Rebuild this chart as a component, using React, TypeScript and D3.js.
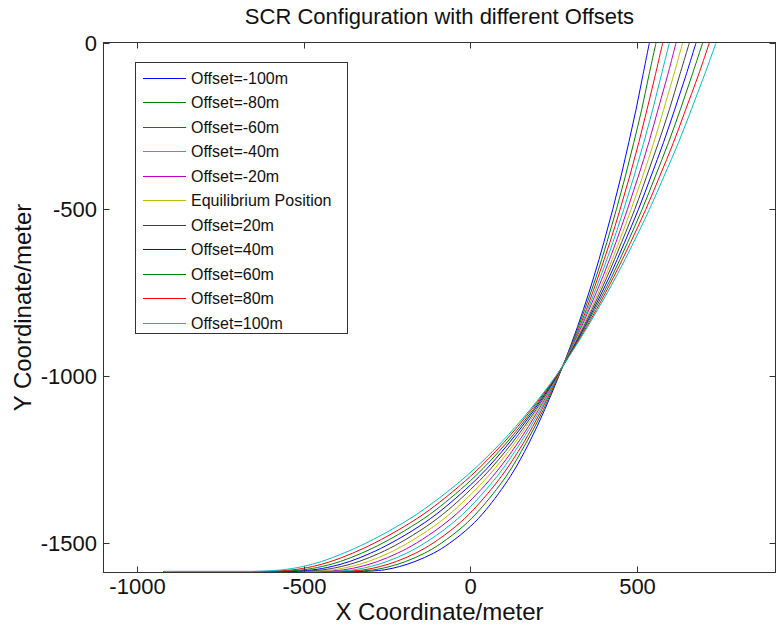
import React from "react";
import * as d3 from "d3";

// ---- Data ----
const chartTitle = "SCR Configuration with different Offsets";
const xLabel = "X Coordinate/meter";
const yLabel = "Y Coordinate/meter";

const xTicks = [-1000, -500, 0, 500];
const yTicks = [0, -500, -1000, -1500];

// Depth levels at which each riser's x position was read (last = touchdown on seabed)
const yLevels = [0, -100, -200, -300, -400, -500, -600, -700, -800, -900, -1000, -1100, -1200, -1300, -1400, -1450, -1500, -1530, -1555, -1570, -1580, -1585];
const seabedY = -1585;
const seabedStartX = -920;

const legendLabels = [
  "Offset=-100m", "Offset=-80m", "Offset=-60m", "Offset=-40m", "Offset=-20m",
  "Equilibrium Position", "Offset=20m", "Offset=40m", "Offset=60m", "Offset=80m", "Offset=100m",
];

const xOffsetM100 = [537, 517, 497, 475, 452, 427, 400, 371, 339, 304, 265, 223, 176, 120, 47, 0, -62, -110, -166, -212, -258, -320];
const xOffsetM80 = [557, 535, 514, 490, 465, 438, 409, 378, 343, 306, 264, 219, 167, 107, 28, -22, -87, -137, -194, -241, -289, -353];
const xOffsetM60 = [577, 554, 530, 505, 478, 449, 418, 384, 348, 308, 263, 214, 159, 93, 9, -44, -112, -164, -222, -270, -319, -386];
const xOffsetM40 = [597, 572, 547, 520, 491, 460, 427, 391, 352, 309, 262, 210, 150, 80, -9, -66, -137, -191, -250, -299, -350, -419];
const xOffsetM20 = [617, 591, 563, 535, 504, 471, 436, 398, 356, 311, 261, 205, 142, 67, -28, -88, -162, -218, -278, -328, -380, -452];
const xEquilibrium = [637, 609, 580, 550, 517, 482, 445, 405, 361, 313, 261, 201, 133, 53, -47, -110, -188, -245, -306, -357, -411, -485];
const xOffsetP20 = [657, 627, 597, 564, 529, 493, 453, 411, 365, 315, 260, 197, 125, 40, -66, -132, -213, -272, -334, -386, -442, -518];
const xOffsetP40 = [677, 646, 613, 579, 542, 504, 462, 418, 369, 317, 259, 192, 116, 27, -85, -154, -238, -299, -362, -415, -472, -551];
const xOffsetP60 = [697, 664, 630, 594, 555, 515, 471, 425, 373, 318, 258, 188, 108, 14, -103, -176, -263, -326, -390, -444, -503, -584];
const xOffsetP80 = [717, 683, 646, 609, 568, 526, 480, 431, 378, 320, 257, 183, 99, 0, -122, -198, -288, -353, -418, -473, -533, -617];
const xOffsetP100 = [737, 701, 663, 624, 581, 537, 489, 438, 382, 322, 256, 179, 91, -13, -141, -220, -313, -380, -446, -502, -564, -650];

const seriesX = [xOffsetM100, xOffsetM80, xOffsetM60, xOffsetM40, xOffsetM20, xEquilibrium, xOffsetP20, xOffsetP40, xOffsetP60, xOffsetP80, xOffsetP100];

// MATLAB classic color order
const colors = ["#0000ff", "#008000", "#ff0000", "#00bfbf", "#bf00bf", "#bfbf00", "#404040", "#0000ff", "#008000", "#ff0000", "#00bfbf"];

const FONT = "'Liberation Sans', Arial, Helvetica, sans-serif";

export default function App() {
  const W = 779, H = 626;
  const L = 103.5, R = 775.5, T = 42.5, B = 572.5;
  const x = d3.scaleLinear().domain([-1100, 915]).range([L, R]);
  const y = d3.scaleLinear().domain([-1588, 0]).range([B, T]);

  const riser = d3.line<[number, number]>()
    .x((d) => x(d[0]))
    .y((d) => y(d[1]))
    .curve(d3.curveCatmullRom.alpha(0.5));

  const series = seriesX.map((xs, i) => {
    const hang: [number, number][] = xs.map((v, k) => [v, yLevels[k]] as [number, number]);
    const liftoff = hang[hang.length - 1];
    const seabed = `M${x(seabedStartX)},${y(seabedY)}L${x(liftoff[0])},${y(seabedY)}`;
    return { label: legendLabels[i], color: colors[i], d: seabed + (riser(hang.reverse()) || "").replace(/^M/, "L") };
  });

  const tickLen = 6;
  const axisColor = "#333";
  const textColor = "#111";

  const legX = 135.5, legY = 62.5, legW = 212, legH = 271;
  const legRow0 = 77.7, legStep = 24.5;

  return (
    <svg width={W} height={H} style={{ position: "absolute", left: 0, top: 0, background: "#fff" }} fontFamily={FONT}>
      <rect x={0} y={0} width={W} height={H} fill="#fff" />
      <defs>
        <clipPath id="plotClip">
          <rect x={L} y={T - 1} width={R - L} height={B - T + 2} />
        </clipPath>
      </defs>
      <g clipPath="url(#plotClip)">
        {series.map((s, i) => (
          <path key={i} d={s.d} fill="none" stroke={s.color} strokeWidth={1} />
        ))}
      </g>
      {/* axes box */}
      <rect x={L} y={T} width={R - L} height={B - T} fill="none" stroke={axisColor} strokeWidth={1} />
      {xTicks.map((t) => {
        const px = Math.round(x(t)) + 0.5;
        return (
          <g key={"xt" + t}>
            <line x1={px} x2={px} y1={B} y2={B - tickLen} stroke={axisColor} />
            <line x1={px} x2={px} y1={T} y2={T + tickLen} stroke={axisColor} />
            <text x={px} y={594} textAnchor="middle" fontSize={22} fill={textColor}>{t}</text>
          </g>
        );
      })}
      {yTicks.map((t) => {
        const py = Math.round(y(t)) + 0.5;
        return (
          <g key={"yt" + t}>
            <line x1={L} x2={L + tickLen} y1={py} y2={py} stroke={axisColor} />
            <line x1={R} x2={R - tickLen} y1={py} y2={py} stroke={axisColor} />
            <text x={97} y={py} dy="0.36em" textAnchor="end" fontSize={22} fill={textColor}>{t}</text>
          </g>
        );
      })}
      <text x={(L + R) / 2} y={24} textAnchor="middle" fontSize={22} fill={textColor}>{chartTitle}</text>
      <text x={(L + R) / 2} y={620} textAnchor="middle" fontSize={24} fill={textColor}>{xLabel}</text>
      <text transform={`translate(31, ${(T + B) / 2}) rotate(-90)`} textAnchor="middle" fontSize={24} fill={textColor}>{yLabel}</text>
      {/* legend */}
      <rect x={legX} y={legY} width={legW} height={legH} fill="#fff" stroke={axisColor} strokeWidth={1} />
      {series.map((s, i) => {
        const ly = Math.round(legRow0 + i * legStep) + 0.5;
        return (
          <g key={"lg" + i}>
            <line x1={143} x2={186} y1={ly} y2={ly} stroke={s.color} strokeWidth={1} />
            <text x={191} y={ly} dy="0.35em" fontSize={16} fill={textColor}>{s.label}</text>
          </g>
        );
      })}
    </svg>
  );
}
